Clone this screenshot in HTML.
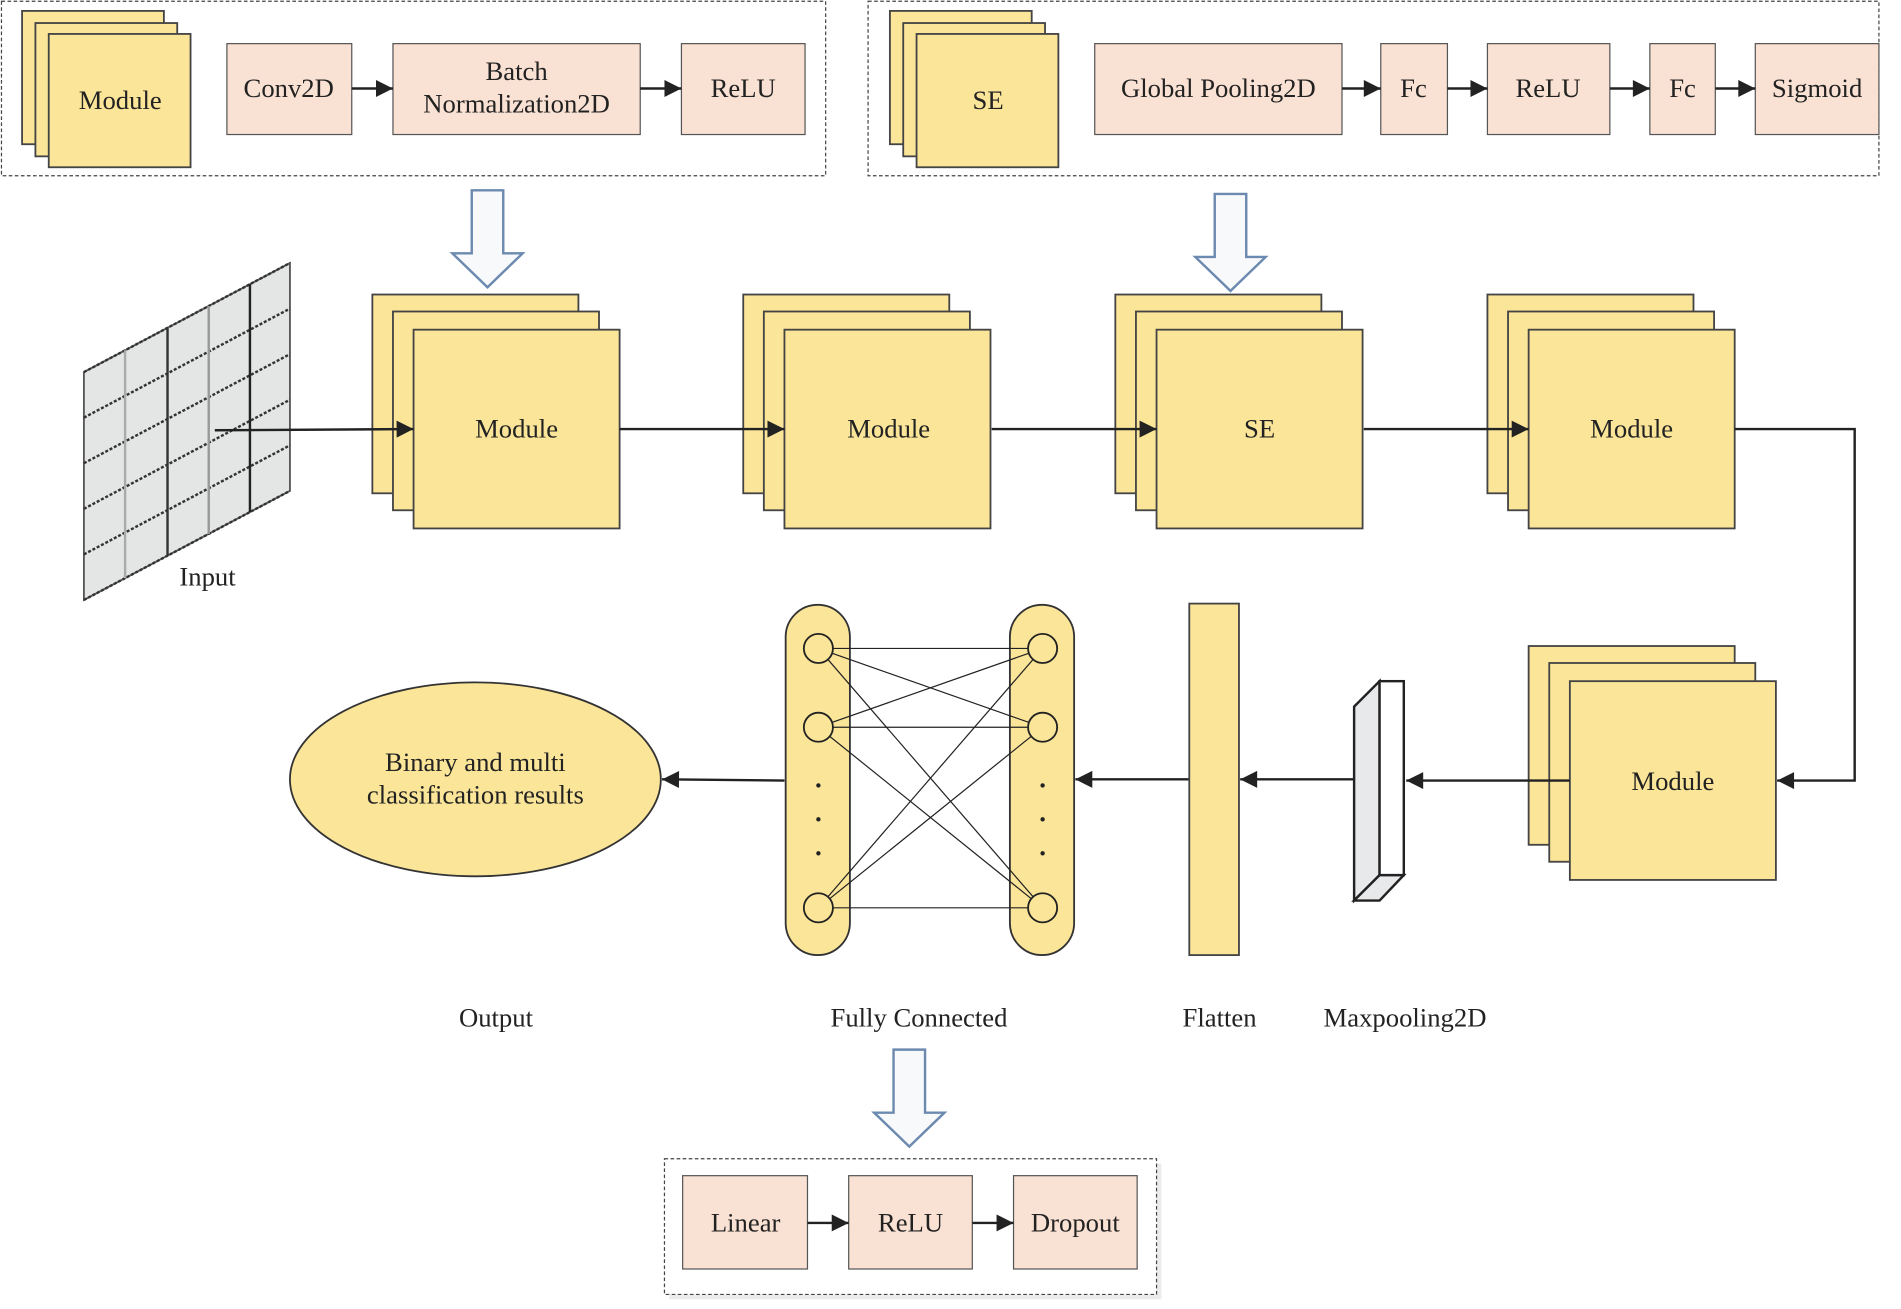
<!DOCTYPE html>
<html><head><meta charset="utf-8"><style>
html,body{margin:0;padding:0;background:#fff;}
svg{display:block;}
text{font-family:"Liberation Serif",serif;font-size:22px;fill:#222;text-anchor:middle;}
</style></head><body>
<svg width="1901" height="1309" viewBox="0 0 1568 1080" xmlns="http://www.w3.org/2000/svg">
<defs>
<marker id="a2" viewBox="0 0 10 10" markerWidth="16" markerHeight="14" refX="10" refY="5" orient="auto" markerUnits="userSpaceOnUse">
<path d="M0,0 L10,5 L0,10 Z" fill="#222"/>
</marker>
<g id="stack">
<rect x="0" y="0" width="170" height="164" fill="#fbe599" stroke="#444" stroke-width="1.5"/>
<rect x="17" y="14" width="170" height="164" fill="#fbe599" stroke="#444" stroke-width="1.5"/>
<rect x="34" y="29" width="170" height="164" fill="#fbe599" stroke="#444" stroke-width="1.5"/>
</g>
<g id="sstack">
<rect x="0" y="0" width="117" height="110" fill="#fbe599" stroke="#444" stroke-width="1.5"/>
<rect x="11" y="10" width="117" height="110" fill="#fbe599" stroke="#444" stroke-width="1.5"/>
<rect x="22" y="19" width="117" height="110" fill="#fbe599" stroke="#444" stroke-width="1.5"/>
</g>
<g id="hollow">
<path d="M-13,0 L13,0 L13,52 L29,52 L0,80 L-29,52 L-13,52 Z" fill="#f7f9fb" stroke="#6c8ab0" stroke-width="2"/>
</g>
</defs>

<rect x="1" y="1" width="680" height="144" fill="none" stroke="#444" stroke-dasharray="3,2"/>
<use href="#sstack" x="18" y="9"/>
<text x="99" y="90">Module</text>
<g stroke="#555" stroke-width="1" fill="#f9e1d3">
<rect x="187" y="36" width="103" height="75"/>
<rect x="324" y="36" width="204" height="75"/>
<rect x="562" y="36" width="102" height="75"/>
</g>
<text x="238" y="80">Conv2D</text>
<text x="426" y="66">Batch</text>
<text x="426" y="93">Normalization2D</text>
<text x="613" y="80">ReLU</text>
<g stroke="#222" stroke-width="2" marker-end="url(#a2)">
<line x1="290" y1="73" x2="324" y2="73"/>
<line x1="528" y1="73" x2="562" y2="73"/>
</g>

<rect x="716" y="1" width="834" height="144" fill="none" stroke="#444" stroke-dasharray="3,2"/>
<use href="#sstack" x="734" y="9"/>
<text x="815" y="90">SE</text>
<g stroke="#555" stroke-width="1" fill="#f9e1d3">
<rect x="903" y="36" width="204" height="75"/>
<rect x="1139" y="36" width="55" height="75"/>
<rect x="1227" y="36" width="101" height="75"/>
<rect x="1361" y="36" width="54" height="75"/>
<rect x="1448" y="36" width="102" height="75"/>
</g>
<text x="1005" y="80">Global Pooling2D</text>
<text x="1166" y="80">Fc</text>
<text x="1277" y="80">ReLU</text>
<text x="1388" y="80">Fc</text>
<text x="1499" y="80">Sigmoid</text>
<g stroke="#222" stroke-width="2" marker-end="url(#a2)">
<line x1="1107" y1="73" x2="1139" y2="73"/>
<line x1="1194" y1="73" x2="1227" y2="73"/>
<line x1="1328" y1="73" x2="1361" y2="73"/>
<line x1="1415" y1="73" x2="1448" y2="73"/>
</g>

<use href="#hollow" x="402" y="157"/>
<use href="#hollow" x="1015" y="160"/>

<polygon points="69,307 239,217 239,405 69,495" fill="#e4e6e6" stroke="#555" stroke-width="1.5"/>
<g stroke="#333" stroke-width="2" stroke-dasharray="2.5,1.5">
<line x1="69" y1="344.6" x2="239" y2="254.6"/>
<line x1="69" y1="382.2" x2="239" y2="292.2"/>
<line x1="69" y1="419.8" x2="239" y2="329.8"/>
<line x1="69" y1="457.4" x2="239" y2="367.4"/>
<line x1="69" y1="307" x2="239" y2="217"/>
<line x1="69" y1="495" x2="239" y2="405"/>
</g>
<g stroke-width="2">
<line x1="103" y1="289" x2="103" y2="477" stroke="#aaa"/>
<line x1="138" y1="270.5" x2="138" y2="458.5" stroke="#333"/>
<line x1="172" y1="252.5" x2="172" y2="440.5" stroke="#999"/>
<line x1="206" y1="234.5" x2="206" y2="422.5" stroke="#222"/>
</g>
<text x="171" y="483">Input</text>

<use href="#stack" x="307" y="243"/>
<use href="#stack" x="613" y="243"/>
<use href="#stack" x="920" y="243"/>
<use href="#stack" x="1227" y="243"/>
<use href="#stack" x="1261" y="533"/>
<text x="426" y="361">Module</text>
<text x="733" y="361">Module</text>
<text x="1039" y="361">SE</text>
<text x="1346" y="361">Module</text>
<text x="1380" y="652">Module</text>

<g stroke="#222" stroke-width="2" fill="none" marker-end="url(#a2)">
<line x1="177" y1="355" x2="341" y2="354"/>
<line x1="511" y1="354" x2="647" y2="354"/>
<line x1="818" y1="354" x2="954" y2="354"/>
<line x1="1125" y1="354" x2="1261" y2="354"/>
<polyline points="1431,354 1530,354 1530,644 1466,644"/>
<line x1="1295" y1="644" x2="1160" y2="644"/>
<line x1="1117" y1="643" x2="1023" y2="643"/>
<line x1="981" y1="643" x2="887" y2="643"/>
<line x1="647" y1="644" x2="546" y2="643"/>
</g>

<polygon points="1117,583 1138,562 1138,722 1117,743" fill="#e8e9eb" stroke="#222" stroke-width="2"/>
<polygon points="1117,743 1138,743 1158,722 1138,722" fill="#e8e9eb" stroke="#222" stroke-width="2"/>
<rect x="1138" y="562" width="20" height="160" fill="#fff" stroke="#222" stroke-width="2"/>

<rect x="981" y="498" width="41" height="290" fill="#fbe599" stroke="#444" stroke-width="1.5"/>

<rect x="648" y="499" width="53" height="289" rx="26.5" fill="#fbe599" stroke="#333" stroke-width="1.5"/>
<rect x="833" y="499" width="53" height="289" rx="26.5" fill="#fbe599" stroke="#333" stroke-width="1.5"/>
<g stroke="#222" stroke-width="1">
<line x1="675" y1="535" x2="860" y2="535"/><line x1="675" y1="535" x2="860" y2="600"/><line x1="675" y1="535" x2="860" y2="749"/>
<line x1="675" y1="600" x2="860" y2="535"/><line x1="675" y1="600" x2="860" y2="600"/><line x1="675" y1="600" x2="860" y2="749"/>
<line x1="675" y1="749" x2="860" y2="535"/><line x1="675" y1="749" x2="860" y2="600"/><line x1="675" y1="749" x2="860" y2="749"/>
</g>
<g fill="#fbe599" stroke="#222" stroke-width="1.5">
<circle cx="675" cy="535" r="12"/><circle cx="675" cy="600" r="12"/><circle cx="675" cy="749" r="12"/>
<circle cx="860" cy="535" r="12"/><circle cx="860" cy="600" r="12"/><circle cx="860" cy="749" r="12"/>
</g>
<g fill="#222">
<circle cx="675" cy="648" r="1.8"/><circle cx="675" cy="676" r="1.8"/><circle cx="675" cy="704" r="1.8"/>
<circle cx="860" cy="648" r="1.8"/><circle cx="860" cy="676" r="1.8"/><circle cx="860" cy="704" r="1.8"/>
</g>

<ellipse cx="392" cy="643" rx="153" ry="80" fill="#fbe599" stroke="#333" stroke-width="1.5"/>
<text x="392" y="636">Binary and multi</text>
<text x="392" y="663">classification results</text>

<text x="409" y="847">Output</text>
<text x="758" y="847">Fully Connected</text>
<text x="1006" y="847">Flatten</text>
<text x="1159" y="847">Maxpooling2D</text>

<use href="#hollow" x="750" y="866"/>

<rect x="552" y="960" width="406" height="112" fill="#ddd" opacity="0.6"/>
<rect x="548" y="956" width="406" height="112" fill="#fff" stroke="#444" stroke-dasharray="3,2"/>
<g stroke="#555" stroke-width="1" fill="#f9e1d3">
<rect x="563" y="970" width="103" height="77"/>
<rect x="700" y="970" width="102" height="77"/>
<rect x="836" y="970" width="102" height="77"/>
</g>
<text x="615" y="1016">Linear</text>
<text x="751" y="1016">ReLU</text>
<text x="887" y="1016">Dropout</text>
<g stroke="#222" stroke-width="2" marker-end="url(#a2)">
<line x1="666" y1="1009" x2="700" y2="1009"/>
<line x1="802" y1="1009" x2="836" y2="1009"/>
</g>
</svg>
</body></html>
